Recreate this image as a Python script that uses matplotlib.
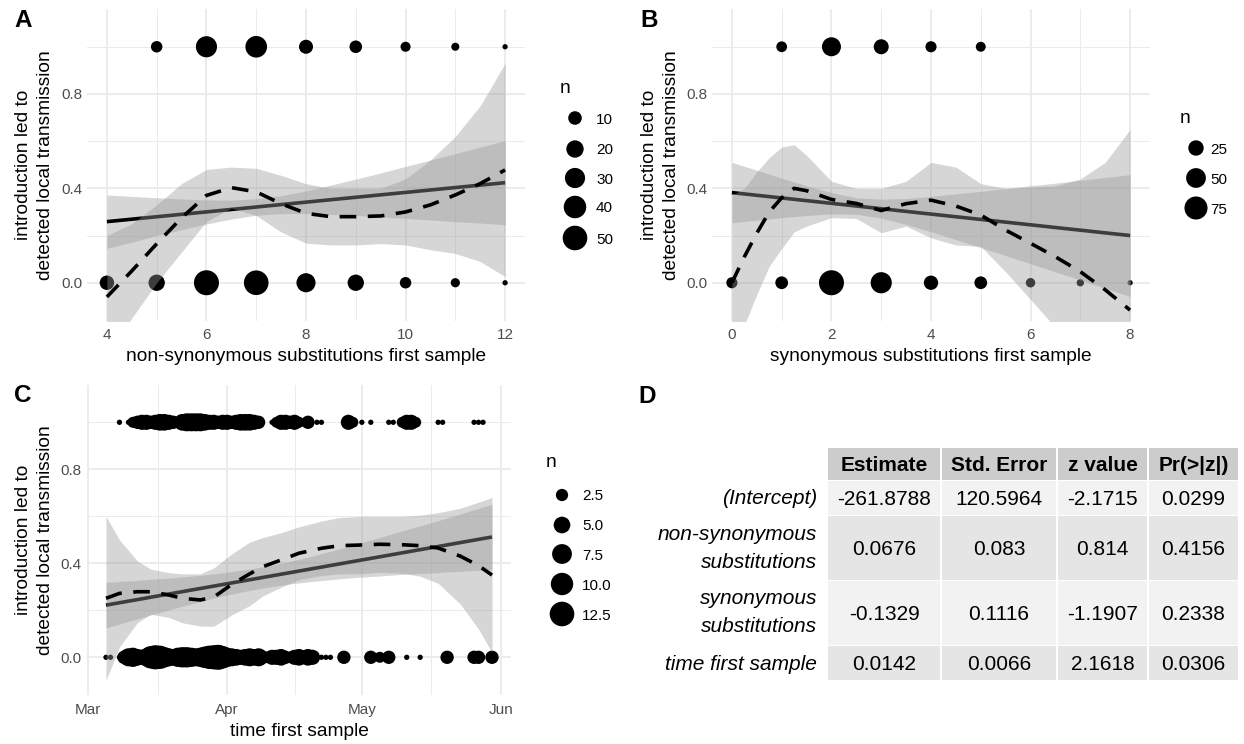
import numpy as np
import matplotlib
matplotlib.use('Agg')
import matplotlib.pyplot as plt
import matplotlib.dates as mdates
from matplotlib.patches import Rectangle

plt.rcParams['font.family'] = ['Liberation Sans', 'DejaVu Sans']

W, H, DPI = 1244, 744, 100

# ---------------- data ----------------
# Panel A : non-synonymous substitutions (outcome 1 = top row, 0 = bottom row)
a_top_x = [5, 6, 7, 8, 9, 10, 11, 12]
a_top_n = [6, 34, 36, 11, 8, 4, 2, 1]
a_bot_x = [4, 5, 6, 7, 8, 9, 10, 11, 12]
a_bot_n = [12, 17, 52, 50, 26, 17, 6, 3, 1]
a_lin_x = [4, 12]
a_lin_y = [0.259, 0.424]
a_grid = [4, 4.5, 5, 5.5, 6, 6.5, 7, 7.5, 8, 8.5, 9, 9.5, 10, 10.5, 11, 11.5, 12]
a_lin_lo = [0.146, 0.172, 0.200, 0.225, 0.249, 0.270, 0.286, 0.293, 0.293, 0.290, 0.285, 0.279, 0.273, 0.266, 0.259, 0.253, 0.246]
a_lin_hi = [0.372, 0.366, 0.360, 0.355, 0.351, 0.350, 0.356, 0.369, 0.389, 0.414, 0.439, 0.465, 0.493, 0.520, 0.547, 0.575, 0.602]
a_loess = [-0.06, 0.05, 0.165, 0.275, 0.37, 0.403, 0.385, 0.335, 0.294, 0.28, 0.28, 0.283, 0.30, 0.33, 0.372, 0.42, 0.478]
a_loess_hi = [0.20, 0.25, 0.33, 0.42, 0.48, 0.49, 0.485, 0.455, 0.42, 0.40, 0.40, 0.40, 0.44, 0.52, 0.62, 0.75, 0.93]
a_loess_lo = [-0.32, -0.15, 0.0, 0.13, 0.26, 0.316, 0.285, 0.215, 0.168, 0.16, 0.16, 0.166, 0.16, 0.14, 0.124, 0.09, 0.026]
a_legend = [10, 20, 30, 40, 50]

# Panel B : synonymous substitutions
b_top_x = [1, 2, 3, 4, 5]
b_top_n = [8, 45, 23, 9, 6]
b_bot_x = [0, 1, 2, 3, 4, 5, 6, 7, 8]
b_bot_n = [9, 14, 92, 60, 20, 14, 5, 2, 1]
b_lin_x = [0, 8]
b_lin_y = [0.382, 0.200]
b_lin_grid = [0, 0.5, 1, 1.5, 2, 2.5, 3, 3.5, 4, 4.5, 5, 5.5, 6, 6.5, 7, 7.5, 8]
b_lin_lo = [0.254, 0.265, 0.276, 0.285, 0.292, 0.290, 0.274, 0.247, 0.216, 0.183, 0.149, 0.115, 0.081, 0.046, 0.012, -0.024, -0.058]
b_lin_hi = [0.510, 0.477, 0.443, 0.411, 0.382, 0.360, 0.354, 0.357, 0.366, 0.377, 0.387, 0.399, 0.411, 0.422, 0.434, 0.446, 0.458]
b_lo_grid = [0, 0.25, 0.5, 0.75, 1, 1.25, 1.5, 2, 2.5, 3, 3.5, 4, 4.5, 5, 5.5, 6, 6.5, 7, 7.5, 8]
b_loess = [0.0, 0.11, 0.21, 0.30, 0.36, 0.40, 0.39, 0.353, 0.336, 0.306, 0.335, 0.35, 0.325, 0.287, 0.223, 0.167, 0.11, 0.047, -0.03, -0.116]
b_loess_hi = [0.37, 0.40, 0.47, 0.53, 0.575, 0.585, 0.54, 0.43, 0.40, 0.40, 0.43, 0.51, 0.49, 0.42, 0.40, 0.405, 0.41, 0.44, 0.51, 0.65]
b_loess_lo = [-0.37, -0.18, -0.05, 0.07, 0.145, 0.215, 0.24, 0.276, 0.272, 0.212, 0.24, 0.19, 0.16, 0.154, 0.046, -0.071, -0.19, -0.346, -0.57, -0.882]
b_legend = [25, 50, 75]

# Panel C : time first sample
c_top_dates = ['2020-03-08', '2020-03-10', '2020-03-11', '2020-03-12', '2020-03-13', '2020-03-14',
               '2020-03-15', '2020-03-16', '2020-03-17', '2020-03-18', '2020-03-19', '2020-03-20',
               '2020-03-21', '2020-03-22', '2020-03-23', '2020-03-24', '2020-03-25', '2020-03-26',
               '2020-03-27', '2020-03-28', '2020-03-29', '2020-03-30', '2020-03-31', '2020-04-01',
               '2020-04-02', '2020-04-03', '2020-04-04', '2020-04-05', '2020-04-06', '2020-04-07',
               '2020-04-08', '2020-04-11', '2020-04-12', '2020-04-13', '2020-04-14', '2020-04-15',
               '2020-04-16', '2020-04-17', '2020-04-19', '2020-04-21', '2020-04-22', '2020-04-28',
               '2020-04-29', '2020-05-01', '2020-05-03', '2020-05-07', '2020-05-08', '2020-05-10',
               '2020-05-11', '2020-05-12', '2020-05-13', '2020-05-18', '2020-05-19', '2020-05-26',
               '2020-05-27', '2020-05-28']
c_top_n = [1, 1, 2, 3, 4, 4,
           3, 4, 5, 5, 4, 3,
           2, 5, 6, 6, 6, 6,
           5, 4, 4, 3, 4, 4,
           3, 4, 5, 5, 5, 4,
           3, 1, 2, 4, 4, 3,
           4, 2, 3, 1, 1, 4,
           2, 1, 1, 1, 1, 2,
           4, 4, 2, 1, 1, 1,
           1, 1]
c_bot_dates = ['2020-03-05', '2020-03-06', '2020-03-08', '2020-03-09', '2020-03-10', '2020-03-11',
               '2020-03-12', '2020-03-13', '2020-03-14', '2020-03-15', '2020-03-16', '2020-03-17',
               '2020-03-18', '2020-03-19', '2020-03-20', '2020-03-21', '2020-03-22', '2020-03-23',
               '2020-03-24', '2020-03-25', '2020-03-26', '2020-03-27', '2020-03-28', '2020-03-29',
               '2020-03-30', '2020-03-31', '2020-04-01', '2020-04-02', '2020-04-03', '2020-04-04',
               '2020-04-05', '2020-04-06', '2020-04-07', '2020-04-08', '2020-04-09', '2020-04-10',
               '2020-04-11', '2020-04-12', '2020-04-13', '2020-04-14', '2020-04-15', '2020-04-16',
               '2020-04-17', '2020-04-18', '2020-04-19', '2020-04-20', '2020-04-22', '2020-04-23',
               '2020-04-24', '2020-04-27', '2020-05-03', '2020-05-05', '2020-05-07', '2020-05-11',
               '2020-05-14', '2020-05-20', '2020-05-26', '2020-05-27', '2020-05-30']
c_bot_n = [1, 1, 1, 3, 6, 7,
           5, 4, 6, 10, 12, 11,
           8, 6, 5, 7, 8, 8,
           7, 6, 7, 9, 11, 12,
           13, 10, 7, 6, 5, 4,
           5, 6, 5, 6, 3, 2,
           4, 4, 5, 3, 2, 4,
           5, 3, 5, 4, 1, 1,
           1, 3, 3, 2, 3, 1,
           1, 3, 3, 3, 3]
c_lin_dates = ['2020-03-05', '2020-05-30']
c_lin_y = [0.222, 0.512]
c_lin_grid = ['2020-03-05', '2020-03-11', '2020-03-16', '2020-03-21', '2020-03-26', '2020-03-31',
              '2020-04-05', '2020-04-10', '2020-04-15', '2020-04-20', '2020-04-25', '2020-04-30',
              '2020-05-05', '2020-05-10', '2020-05-15', '2020-05-20', '2020-05-25', '2020-05-30']
c_lin_lo = [0.125, 0.158, 0.186, 0.212, 0.237, 0.261, 0.281, 0.298, 0.312, 0.323, 0.332, 0.340,
            0.346, 0.353, 0.357, 0.363, 0.368, 0.373]
c_lin_hi = [0.319, 0.326, 0.333, 0.340, 0.349, 0.359, 0.373, 0.388, 0.408, 0.431, 0.456, 0.483,
            0.510, 0.538, 0.565, 0.593, 0.622, 0.651]
c_lo_grid = ['2020-03-05', '2020-03-08', '2020-03-12', '2020-03-15', '2020-03-19', '2020-03-22',
             '2020-03-26', '2020-03-29', '2020-04-02', '2020-04-06', '2020-04-09', '2020-04-13',
             '2020-04-17', '2020-04-22', '2020-04-26', '2020-05-01', '2020-05-05', '2020-05-10',
             '2020-05-14', '2020-05-18', '2020-05-23', '2020-05-27', '2020-05-30']
c_loess = [0.251, 0.272, 0.279, 0.279, 0.265, 0.251, 0.244, 0.256, 0.31, 0.355, 0.386, 0.414,
           0.443, 0.464, 0.475, 0.478, 0.481, 0.479, 0.475, 0.465, 0.43, 0.39, 0.35]
c_loess_hi = [0.60, 0.50, 0.41, 0.375, 0.36, 0.355, 0.355, 0.38, 0.44, 0.49, 0.51, 0.53,
              0.555, 0.58, 0.595, 0.60, 0.60, 0.60, 0.605, 0.615, 0.635, 0.66, 0.68]
c_loess_lo = [-0.098, 0.044, 0.148, 0.183, 0.17, 0.147, 0.133, 0.132, 0.18, 0.22, 0.262, 0.298,
              0.331, 0.348, 0.355, 0.356, 0.362, 0.358, 0.345, 0.315, 0.225, 0.12, 0.02]
c_legend = [2.5, 5.0, 7.5, 10.0, 12.5]
c_month_ticks = ['2020-03-01', '2020-04-01', '2020-05-01', '2020-06-01']
c_month_labels = ['Mar', 'Apr', 'May', 'Jun']

# Panel D : model table
col_labels = ['Estimate', 'Std. Error', 'z value', 'Pr(>|z|)']
row_labels = ['(Intercept)', 'non-synonymous\nsubstitutions', 'synonymous\nsubstitutions', 'time first sample']
estimate = ['-261.8788', '0.0676', '-0.1329', '0.0142']
std_error = ['120.5964', '0.083', '0.1116', '0.0066']
z_value = ['-2.1715', '0.814', '-1.1907', '2.1618']
p_value = ['0.0299', '0.4156', '0.2338', '0.0306']

y_title = ['introduction led to', 'detected local transmission']

# ---------------- style ----------------
GRID = '#ebebeb'
RIB = '#999999'
LW = 2.6
TICKC = '#4d4d4d'


def diam_px(n, nmin, nmax):
    n = np.asarray(n, dtype=float)
    return 5.3 + 19.7 * np.sqrt((n - nmin) / (nmax - nmin))


def area(n, nmin, nmax):
    return (diam_px(n, nmin, nmax) * 72.0 / DPI) ** 2


fig = plt.figure(figsize=(W / DPI, H / DPI), dpi=DPI)


def add_ax(L, R, T, B):
    return fig.add_axes([L / W, 1 - B / H, (R - L) / W, (B - T) / H])


def style_ax(ax, xlim, xmaj, xmin_, xlabels=None):
    ax.set_xlim(*xlim)
    ax.set_ylim(-0.16, 1.16)
    ax.set_xticks(xmaj)
    if xlabels is not None:
        ax.set_xticklabels(xlabels)
    ax.set_xticks(xmin_, minor=True)
    ax.set_yticks([0.0, 0.4, 0.8])
    ax.set_yticklabels(['0.0', '0.4', '0.8'])
    ax.set_yticks([0.2, 0.6, 1.0], minor=True)
    ax.grid(which='major', color=GRID, lw=1.35)
    ax.grid(which='minor', color=GRID, lw=0.7)
    ax.set_axisbelow(True)
    for s in ax.spines.values():
        s.set_visible(False)
    ax.tick_params(which='both', length=0)
    ax.tick_params(axis='x', which='major', labelsize=11, labelcolor=TICKC, pad=5.5)
    ax.tick_params(axis='y', which='major', labelsize=11, labelcolor=TICKC, pad=3.6)


def draw(ax, tx, tn, bx, bn, lin_x, lin_y, lg, llo, lhi, og, oy, olo, ohi):
    nmin = min(min(tn), min(bn))
    nmax = max(max(tn), max(bn))
    ax.scatter(tx, [1.0] * len(tx), s=area(tn, nmin, nmax), c='black', lw=0, zorder=2)
    ax.scatter(bx, [0.0] * len(bx), s=area(bn, nmin, nmax), c='black', lw=0, zorder=2)
    ax.fill_between(lg, llo, lhi, color=RIB, alpha=0.4, lw=0, zorder=3)
    ax.plot(lin_x, lin_y, color='black', lw=LW, solid_capstyle='butt', zorder=4)
    ax.fill_between(og, olo, ohi, color=RIB, alpha=0.4, lw=0, zorder=5)
    ax.plot(og, oy, color='black', lw=LW, ls=(0, (4.6, 3.2)), dash_capstyle='butt', zorder=6)
    return nmin, nmax


# Panel A
axA = add_ax(87, 525, 9, 320.5)
style_ax(axA, (3.6, 12.4), [4, 6, 8, 10, 12], [5, 7, 9, 11])
a_rng = draw(axA, a_top_x, a_top_n, a_bot_x, a_bot_n, a_lin_x, a_lin_y, a_grid, a_lin_lo, a_lin_hi,
             a_grid, a_loess, a_loess_lo, a_loess_hi)

# Panel B
axB = add_ax(712, 1150, 9, 320.5)
style_ax(axB, (-0.4, 8.4), [0, 2, 4, 6, 8], [1, 3, 5, 7])
b_rng = draw(axB, b_top_x, b_top_n, b_bot_x, b_bot_n, b_lin_x, b_lin_y, b_lin_grid, b_lin_lo, b_lin_hi,
             b_lo_grid, b_loess, b_loess_lo, b_loess_hi)

# Panel C
d = mdates.datestr2num
axC = add_ax(86.7, 511.3, 384.7, 694.9)
mt = d(c_month_ticks)
style_ax(axC, (mt[0] - 0.3, mt[0] + 94.3), list(mt), list((mt[:-1] + mt[1:]) / 2), c_month_labels)
c_rng = draw(axC, d(c_top_dates), c_top_n, d(c_bot_dates), c_bot_n, d(c_lin_dates), c_lin_y,
             d(c_lin_grid), c_lin_lo, c_lin_hi, d(c_lo_grid), c_loess, c_loess_lo, c_loess_hi)

# ---------------- overlay (titles, legends, table) ----------------
ov = fig.add_axes([0, 0, 1, 1])
ov.set_xlim(0, W)
ov.set_ylim(H, 0)
ov.axis('off')
ov.patch.set_alpha(0)

TF = 13.75
# panel tags
for lab, x, y in [('A', 14, 27), ('B', 640, 27), ('C', 14, 402), ('D', 638, 403)]:
    ov.text(x, y, lab, fontsize=17.5, fontweight='bold', ha='left', va='baseline')

# axis titles
ov.text(306, 361, 'non-synonymous substitutions first sample', fontsize=TF, ha='center', va='baseline')
ov.text(931, 361, 'synonymous substitutions first sample', fontsize=TF, ha='center', va='baseline')
ov.text(299, 736, 'time first sample', fontsize=TF, ha='center', va='baseline')
for xoff, yc in [(0, 165), (625, 165), (0, 540)]:
    for k, line in enumerate(y_title):
        ov.text(28.5 + 22 * k + xoff, yc, line, fontsize=TF, rotation=90,
                rotation_mode='anchor', ha='center', va='baseline')


def legend(vals, rng, title_xy, dot_x, lab_x, ys, fmt):
    ov.text(title_xy[0], title_xy[1], 'n', fontsize=TF, ha='left', va='baseline')
    ov.scatter([dot_x] * len(vals), ys, s=area(vals, rng[0], rng[1]), c='black', lw=0)
    for v, y in zip(vals, ys):
        ov.text(lab_x, y + 5.5, fmt.format(v), fontsize=11, ha='left', va='baseline')


legend(a_legend, a_rng, (560, 93), 575, 596, [118, 149, 178, 207, 238], '{:d}')
legend(b_legend, b_rng, (1180, 123), 1196, 1210, [148, 178, 208], '{:d}')
legend(c_legend, c_rng, (546, 467), 562, 582, [495, 525, 554, 584, 614], '{:.1f}')

# table
cols = [(828, 940), (942, 1056), (1058, 1147), (1149, 1238)]
rows = [(481, 515), (516, 580), (581, 645), (646, 680)]
head = (448, 480)
FS = 15
for (x0, x1), lab in zip(cols, col_labels):
    ov.add_patch(Rectangle((x0, head[0]), x1 - x0, head[1] - head[0], color='#cccccc', lw=0))
    ov.text((x0 + x1) / 2, (head[0] + head[1]) / 2 + 7.4, lab, fontsize=FS, fontweight='bold',
            ha='center', va='baseline')
body = [estimate, std_error, z_value, p_value]
for i, (y0, y1) in enumerate(rows):
    fill = '#f2f2f2' if i % 2 == 0 else '#e5e5e5'
    yc = (y0 + y1) / 2
    for j, (x0, x1) in enumerate(cols):
        ov.add_patch(Rectangle((x0, y0), x1 - x0, y1 - y0, color=fill, lw=0))
        ov.text((x0 + x1) / 2, yc + 7.4, body[j][i], fontsize=FS, ha='center', va='baseline')
    lines = row_labels[i].split('\n')
    if len(lines) == 1:
        ov.text(817, yc + 6.5, lines[0], fontsize=FS, style='italic', ha='right', va='baseline')
    else:
        ov.text(817, yc - 14 + 5.5, lines[0], fontsize=FS, style='italic', ha='right', va='baseline')
        ov.text(817, yc + 14 + 5.5, lines[1], fontsize=FS, style='italic', ha='right', va='baseline')

fig.savefig('out.png', dpi=DPI)
